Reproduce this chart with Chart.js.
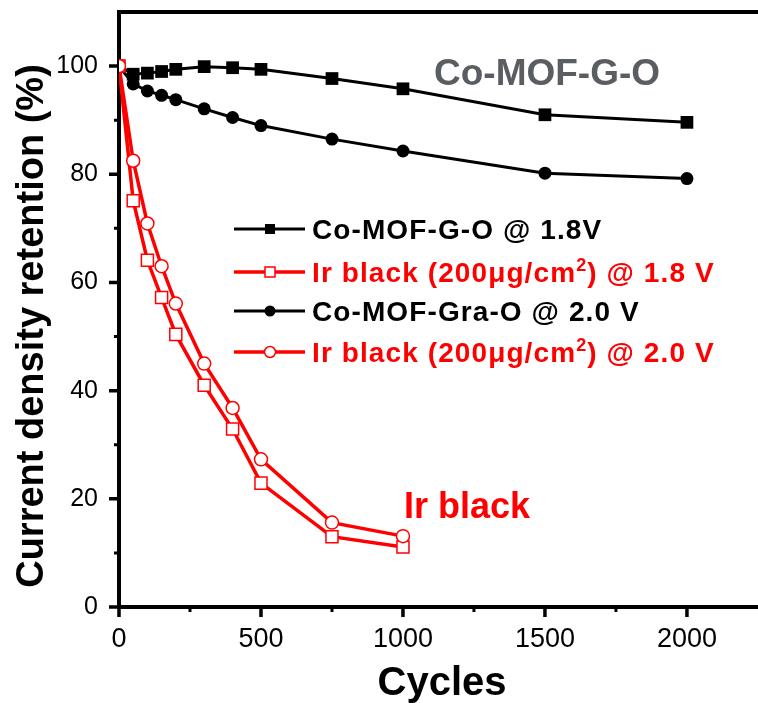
<!DOCTYPE html>
<html>
<head>
<meta charset="utf-8">
<script src="https://cdn.jsdelivr.net/npm/chart.js@4/dist/chart.umd.min.js"></script>
<style>
  html, body { margin: 0; padding: 0; background: #fff; }
  #wrap { width: 758px; height: 703px; position: relative; }
</style>
</head>
<body>
<div id="wrap"><canvas id="c" width="758" height="703"></canvas></div>
<script>
// Cycle numbers for each family of samples
const cyclesCo = [0, 50, 100, 150, 200, 300, 400, 500, 750, 1000, 1500, 2000];
const cyclesIr = [0, 50, 100, 150, 200, 300, 400, 500, 750, 1000];

// Current density retention (%)
const retentionCoGO18 = [100, 98.5, 98.7, 99.0, 99.4, 99.9, 99.7, 99.4, 97.7, 95.8, 91.0, 89.6];
const retentionIr18   = [100, 75.1, 64.1, 57.2, 50.4, 41.0, 32.9, 22.9, 13.0, 11.1];
const retentionCoGra20 = [100, 96.7, 95.4, 94.6, 93.8, 92.1, 90.5, 89.0, 86.5, 84.3, 80.2, 79.2];
const retentionIr20   = [100, 82.5, 70.9, 63.0, 56.1, 45.0, 36.8, 27.3, 15.6, 13.1];

// Axis ticks
const xTickValues = [0, 500, 1000, 1500, 2000];
const xMinorTicks = [250, 750, 1250, 1750];
const yTickValues = [0, 20, 40, 60, 80, 100];
const yMinorTicks = [10, 30, 50, 70, 90];

const xTitle = 'Cycles';
const yTitle = 'Current density retention (%)';

const RED = '#ff0000';
const BLACK = '#000000';
const GRAY = '#5a5e63';

function pairs(xs, ys) { return xs.map((x, i) => ({ x: x, y: ys[i] })); }

const datasets = [
  {
    label: 'Co-MOF-G-O @ 1.8V',
    data: pairs(cyclesCo, retentionCoGO18),
    borderColor: BLACK, backgroundColor: BLACK, borderWidth: 3,
    pointStyle: 'rect', pointRadius: 9, pointBorderWidth: 0,
    pointBackgroundColor: BLACK, order: 4
  },
  {
    label: 'Co-MOF-Gra-O @ 2.0 V',
    data: pairs(cyclesCo, retentionCoGra20),
    borderColor: BLACK, backgroundColor: BLACK, borderWidth: 3,
    pointStyle: 'circle', pointRadius: 6.5, pointBorderWidth: 0,
    pointBackgroundColor: BLACK, order: 3
  },
  {
    label: 'Ir black (200μg/cm2) @ 1.8 V',
    data: pairs(cyclesIr, retentionIr18),
    borderColor: RED, backgroundColor: '#fff', borderWidth: 3.5,
    pointStyle: 'rect', pointRadius: 8.5, pointBorderWidth: 1.5,
    pointBorderColor: RED, pointBackgroundColor: '#fff', order: 2
  },
  {
    label: 'Ir black (200μg/cm2) @ 2.0 V',
    data: pairs(cyclesIr, retentionIr20),
    borderColor: RED, backgroundColor: '#fff', borderWidth: 3.5,
    pointStyle: 'circle', pointRadius: 6.5, pointBorderWidth: 1.5,
    pointBorderColor: RED, pointBackgroundColor: '#fff', order: 1
  }
];

// Frame, tick marks, axis titles, legend and labels
const decorations = {
  id: 'decorations',
  beforeDatasetsDraw(chart) {
    const ctx = chart.ctx;
    const a = chart.chartArea;
    const xs = chart.scales.x, ys = chart.scales.y;
    ctx.save();
    ctx.strokeStyle = BLACK;
    ctx.lineWidth = 4;
    ctx.lineCap = 'butt';
    // frame: left, bottom, top
    ctx.beginPath();
    ctx.moveTo(a.left, a.top - 2); ctx.lineTo(a.left, a.bottom + 2);
    ctx.moveTo(a.left - 2, a.bottom); ctx.lineTo(chart.width, a.bottom);
    ctx.moveTo(a.left - 2, a.top); ctx.lineTo(chart.width, a.top);
    ctx.stroke();
    // tick marks (outward)
    ctx.lineWidth = 3.5;
    ctx.beginPath();
    xTickValues.forEach(v => { const p = xs.getPixelForValue(v); ctx.moveTo(p, a.bottom); ctx.lineTo(p, a.bottom + 10); });
    yTickValues.forEach(v => { const p = ys.getPixelForValue(v); ctx.moveTo(a.left, p); ctx.lineTo(a.left - 10, p); });
    ctx.stroke();
    ctx.lineWidth = 3;
    ctx.beginPath();
    xMinorTicks.forEach(v => { const p = xs.getPixelForValue(v); ctx.moveTo(p, a.bottom); ctx.lineTo(p, a.bottom + 5); });
    yMinorTicks.forEach(v => { const p = ys.getPixelForValue(v); ctx.moveTo(a.left, p); ctx.lineTo(a.left - 5, p); });
    ctx.stroke();
    ctx.restore();
  },
  afterDraw(chart) {
    const ctx = chart.ctx;
    ctx.save();
    // axis titles
    ctx.fillStyle = BLACK;
    ctx.font = 'bold 40px "Liberation Sans", Arial, sans-serif';
    ctx.textAlign = 'center';
    ctx.textBaseline = 'alphabetic';
    ctx.fillText(xTitle, 442, 695);
    ctx.save();
    ctx.translate(43, 326);
    ctx.rotate(-Math.PI / 2);
    ctx.font = 'bold 38px "Liberation Sans", Arial, sans-serif';
    ctx.fillText(yTitle, 0, 0);
    ctx.restore();

    // text labels inside the plot
    ctx.textAlign = 'left';
    ctx.font = 'bold 37px "Liberation Sans", Arial, sans-serif';
    ctx.fillStyle = GRAY;
    ctx.fillText('Co-MOF-G-O', 434, 85);
    ctx.font = 'bold 36px "Liberation Sans", Arial, sans-serif';
    ctx.fillStyle = RED;
    ctx.fillText('Ir black', 404, 518);

    // legend
    const rows = [
      { ds: 0, y: 229, parts: ['Co-MOF-G-O @ 1.8V'] },
      { ds: 2, y: 272, parts: ['Ir black (200μg/cm', '2', ') @ 1.8 V'] },
      { ds: 1, y: 311, parts: ['Co-MOF-Gra-O @ 2.0 V'] },
      { ds: 3, y: 352, parts: ['Ir black (200μg/cm', '2', ') @ 2.0 V'] }
    ];
    rows.forEach(r => {
      const d = chart.data.datasets[r.ds];
      ctx.strokeStyle = d.borderColor;
      ctx.lineWidth = d.borderColor === RED ? 3.5 : 3;
      ctx.beginPath();
      ctx.moveTo(234, r.y); ctx.lineTo(305, r.y);
      ctx.stroke();
      ctx.fillStyle = d.pointBackgroundColor;
      ctx.strokeStyle = d.pointBorderColor || d.borderColor;
      ctx.lineWidth = d.pointBorderWidth;
      ctx.beginPath();
      if (d.pointStyle === 'rect') {
        const s = 5;
        ctx.rect(270 - s, r.y - s, 2 * s, 2 * s);
      } else {
        ctx.arc(270, r.y, 5.5, 0, Math.PI * 2);
      }
      ctx.fill();
      if (d.pointBorderWidth) ctx.stroke();

      ctx.fillStyle = d.borderColor;
      ctx.textBaseline = 'alphabetic';
      ctx.letterSpacing = '1.1px';
      const base = r.y + 10;
      let x = 312;
      r.parts.forEach((t, i) => {
        if (i === 1) {
          ctx.font = 'bold 18px "Liberation Sans", Arial, sans-serif';
          ctx.fillText(t, x, base - 11);
        } else {
          ctx.font = 'bold 28px "Liberation Sans", Arial, sans-serif';
          ctx.fillText(t, x, base);
        }
        x += ctx.measureText(t).width;
      });
      ctx.letterSpacing = '0px';
    });
    ctx.restore();
  }
};

new Chart(document.getElementById('c'), {
  type: 'line',
  data: { datasets: datasets },
  options: {
    responsive: false,
    animation: false,
    layout: { padding: { top: 12, right: 0, left: 0, bottom: 0 } },
    plugins: { legend: { display: false }, tooltip: { enabled: false } },
    elements: { line: { tension: 0 } },
    scales: {
      x: {
        type: 'linear', min: 0, max: 2215,
        afterBuildTicks: s => { s.ticks = xTickValues.map(v => ({ value: v })); },
        afterFit: s => { s.height = 96; s.paddingLeft = 0; s.paddingRight = 0; },
        grid: { display: false, drawTicks: false },
        border: { display: false },
        ticks: {
          color: BLACK, padding: 16, maxRotation: 0, autoSkip: false,
          callback: v => String(v),
          font: { family: '"Liberation Sans", Arial, sans-serif', size: 27 }
        }
      },
      y: {
        type: 'linear', min: 0, max: 110,
        afterBuildTicks: s => { s.ticks = yTickValues.map(v => ({ value: v })); },
        afterFit: s => { s.width = 119; s.paddingTop = 0; s.paddingBottom = 0; },
        grid: { display: false, drawTicks: false },
        border: { display: false },
        ticks: {
          color: BLACK, padding: 21, autoSkip: false,
          callback: v => String(v),
          font: { family: '"Liberation Sans", Arial, sans-serif', size: 25 }
        }
      }
    }
  },
  plugins: [decorations]
});
</script>
</body>
</html>
